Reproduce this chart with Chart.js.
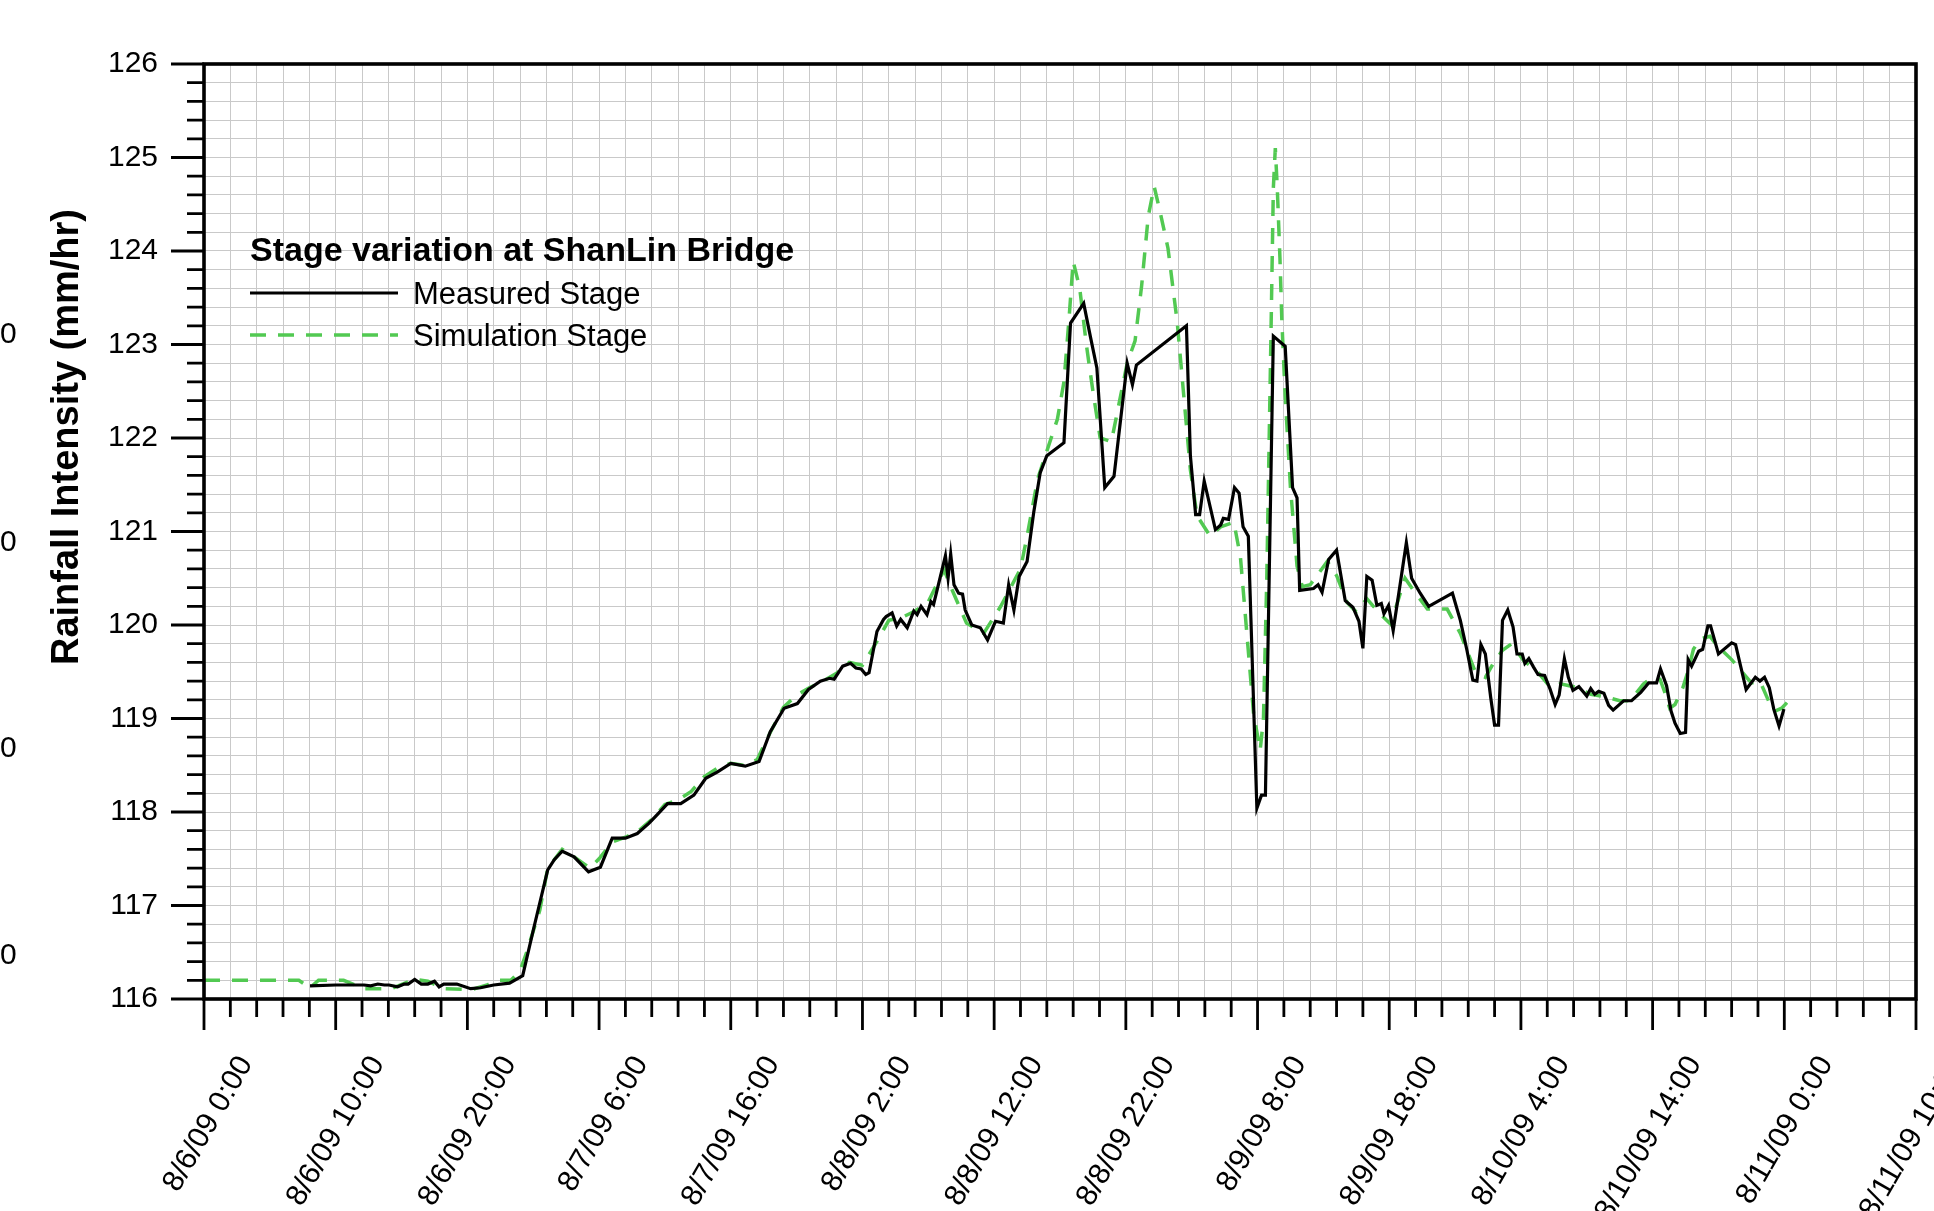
<!DOCTYPE html>
<html lang="en">
<head>
  <meta charset="UTF-8" />
  <title>Stage variation at ShanLin Bridge</title>
  <script src="https://cdn.jsdelivr.net/npm/chart.js"></script>
  <style>
    body { margin: 0; background: #fff; }
    canvas { display: block; }
  </style>
</head>
<body>
  <canvas id="stage" width="1934" height="1211"></canvas>

  <script>
    // hours since 8/6/09 0:00
    const tickLabels = ['8/6/09 0:00', '8/6/09 10:00', '8/6/09 20:00', '8/7/09 6:00', '8/7/09 16:00',
      '8/8/09 2:00', '8/8/09 12:00', '8/8/09 22:00', '8/9/09 8:00', '8/9/09 18:00',
      '8/10/09 4:00', '8/10/09 14:00', '8/11/09 0:00', '8/11/09 10:00'];

    const measuredHours = [8.05, 10, 12.15, 12.66, 13.2, 13.7, 14.05, 14.7, 15.2, 15.5, 16, 16.5, 17, 17.5, 17.85,
      18.2, 19.2, 20.25, 21, 22, 23.2, 24.2, 25.06, 26.1, 26.6, 27.2, 28.1, 29.2, 30.1, 31, 32, 32.9, 33.8, 34.4,
      35.2, 36.2, 37.2, 38.1, 39, 40, 41.1, 42.15, 43, 44.05, 45.06, 45.9, 46.8, 47.5, 47.85, 48.5, 49.1, 49.5,
      49.9, 50.25, 50.5, 51.1, 51.6, 51.8, 52.25, 52.6, 52.9, 53.4, 53.9, 54.15, 54.45, 54.9, 55.2, 55.4, 55.8,
      56.3, 56.5, 56.7, 56.95, 57.3, 57.6, 57.8, 58.3, 58.95, 59.5, 60.1, 60.7, 61.1, 61.5, 61.9, 62.5, 63, 63.5,
      64, 65.3, 65.8, 66.8, 67.3, 67.8, 68.4, 69.1, 70.1, 70.5, 70.8, 74.6, 74.9, 75.3, 75.6, 75.95, 76.8, 77.2,
      77.4, 77.8, 78.25, 78.6, 78.9, 79.3, 79.95, 80.3, 80.6, 81.2, 82.1, 82.66, 83, 83.2, 84.25, 84.6, 84.9,
      85.4, 86, 86.66, 87.24, 87.7, 88, 88.3, 88.7, 89.06, 89.4, 89.6, 89.95, 90.3, 90.8, 91.3, 91.7, 92.35, 93,
      94.8, 95.4, 95.9, 96.35, 96.66, 96.96, 97.3, 97.7, 98, 98.3, 98.6, 99, 99.4, 99.7, 100.1, 100.3, 100.6,
      100.96, 101.3, 101.8, 102.2, 102.6, 102.9, 103.3, 103.6, 103.95, 104.4, 104.76, 105, 105.3, 105.6, 105.9,
      106.3, 106.66, 107, 107.8, 108.4, 109.1, 109.7, 110.3, 110.6, 111.06, 111.4, 111.7, 112.1, 112.5, 112.7,
      112.96, 113.5, 113.8, 114.2, 114.4, 115, 116, 116.3, 117.1, 117.8, 118.15, 118.5, 118.86, 119.2, 119.6,
      119.97];
    const measuredStage = [116.14, 116.15, 116.15, 116.14, 116.16, 116.15, 116.15, 116.13, 116.16, 116.16, 116.21,
      116.16, 116.16, 116.19, 116.13, 116.16, 116.16, 116.11, 116.12, 116.15, 116.17, 116.25, 116.77, 117.38,
      117.49, 117.58, 117.52, 117.36, 117.41, 117.72, 117.72, 117.77, 117.88, 117.97, 118.09, 118.09, 118.18,
      118.36, 118.43, 118.52, 118.49, 118.54, 118.86, 119.11, 119.16, 119.31, 119.4, 119.43, 119.42, 119.56,
      119.59, 119.54, 119.53, 119.47, 119.49, 119.93, 120.06, 120.09, 120.13, 119.99, 120.06, 119.97, 120.15,
      120.11, 120.2, 120.11, 120.25, 120.22, 120.45, 120.74, 120.5, 120.76, 120.43, 120.34, 120.33, 120.16, 120,
      119.97, 119.84, 120.04, 120.02, 120.43, 120.16, 120.52, 120.68, 121.2, 121.63, 121.81, 121.95, 123.23,
      123.44, 123.09, 122.75, 121.47, 121.59, 122.8, 122.57, 122.78, 123.2, 121.81, 121.18, 121.18, 121.54,
      121.02, 121.07, 121.14, 121.13, 121.47, 121.41, 121.05, 120.95, 118.04, 118.18, 118.18, 123.09, 122.98,
      121.47, 121.36, 120.37, 120.39, 120.43, 120.35, 120.7, 120.8, 120.26, 120.19, 120.04, 119.75, 120.52,
      120.48, 120.21, 120.23, 120.12, 120.21, 119.94, 120.41, 120.88, 120.5, 120.34, 120.2, 120.34, 120.05,
      119.73, 119.41, 119.4, 119.79, 119.69, 119.23, 118.93, 118.93, 120.05, 120.16, 119.98, 119.69, 119.69,
      119.59, 119.64, 119.55, 119.47, 119.46, 119.32, 119.15, 119.25, 119.64, 119.44, 119.3, 119.34, 119.28,
      119.24, 119.32, 119.26, 119.29, 119.27, 119.14, 119.09, 119.19, 119.19, 119.28, 119.38, 119.38, 119.53,
      119.35, 119.08, 118.95, 118.84, 118.85, 119.63, 119.56, 119.72, 119.74, 119.99, 119.99, 119.69, 119.81,
      119.79, 119.31, 119.44, 119.4, 119.44, 119.33, 119.1, 118.92, 119.1];

    const simHours = [0, 7.2, 8.05, 8.7, 10.6, 12.2, 14.2, 16, 17, 18.2, 20.3, 21.5, 22.3, 23.3, 24, 24.5, 25.5,
      26.1, 27.2, 28, 29.3, 30, 31, 32, 33, 34, 35, 36, 37, 38, 39, 40, 41, 42, 43, 44, 45, 46, 47, 48, 49, 50,
      51, 52, 53, 54, 55, 56.2, 56.7, 57.9, 59.2, 60.5, 62, 62.5, 63.3, 64, 64.8, 65.3, 65.7, 66, 66.5, 67, 67.5,
      68.05, 68.9, 70.1, 70.7, 71.2, 71.7, 72.15, 72.6, 73.2, 73.9, 74.4, 74.9, 75.4, 76.4, 77.2, 78.2, 78.7,
      79.2, 79.7, 80.2, 80.45, 80.7, 81, 81.2, 81.35, 81.5, 81.7, 81.85, 82.1, 82.5, 83, 83.4, 84, 85.3, 86,
      86.8, 87.5, 88.3, 88.8, 89.44, 90.1, 90.6, 91.2, 91.85, 92.9, 94.4, 95.4, 95.9, 96.5, 97.3, 97.9, 98.6,
      99.3, 100.2, 101.2, 102.2, 103, 104, 105.3, 106.5, 107.5, 108.3, 109.3, 109.8, 110.56, 110.9, 111.3,
      111.7, 112.3, 112.7, 113.1, 113.6, 114.35, 114.9, 116, 116.6, 117.5, 118.15, 118.8, 119.3, 119.8, 120.2];
    const simStage = [116.2, 116.2, 116.12, 116.2, 116.2, 116.11, 116.11, 116.21, 116.19, 116.11, 116.1, 116.15,
      116.2, 116.2, 116.3, 116.5, 116.95, 117.4, 117.6, 117.53, 117.4, 117.5, 117.68, 117.73, 117.8, 117.92,
      118.08, 118.13, 118.22, 118.38, 118.47, 118.52, 118.5, 118.56, 118.85, 119.12, 119.25, 119.33, 119.4,
      119.48, 119.6, 119.57, 119.8, 120.05, 120.08, 120.15, 120.25, 120.59, 120.41, 120.02, 119.91, 120.2, 120.6,
      120.95, 121.56, 121.86, 122.2, 122.6, 123.3, 123.89, 123.6, 123, 122.5, 122, 121.96, 122.8, 123.04, 123.63,
      124.37, 124.69, 124.42, 124.03, 123.24, 122.45, 121.66, 121.17, 120.95, 121.05, 121.1, 120.73, 119.89,
      119.05, 118.66, 119, 120.48, 122.94, 124.67, 125.1, 124.67, 123.93, 123.24, 122.45, 121.47, 120.63, 120.41,
      120.43, 120.68, 120.53, 120.24, 120.14, 120.28, 120.2, 120.1, 120.01, 120.23, 120.5, 120.37, 120.17,
      120.17, 119.91, 119.73, 119.51, 119.44, 119.59, 119.73, 119.8, 119.62, 119.51, 119.34, 119.37, 119.34,
      119.26, 119.23, 119.19, 119.19, 119.37, 119.42, 119.42, 119.29, 119.11, 119.15, 119.33, 119.51, 119.74,
      119.85, 119.88, 119.78, 119.63, 119.53, 119.38, 119.4, 119.19, 119.08, 119.11, 119.17];

    const legendTitle = 'Stage variation at ShanLin Bridge';
    const axisTitle = 'Rainfall Intensity (mm/hr)';
    const FONT = "'Liberation Sans', Arial, sans-serif";

    const toPoints = (xs, ys) => xs.map((h, i) => ({ x: h, y: ys[i] }));
    const isWhole = (v) => Math.abs(v - Math.round(v)) < 1e-6;

    // frame, tick marks, legend and leftover labels from the neighbouring panel
    const decorations = {
      id: 'decorations',
      afterDraw(chart) {
        const { ctx, chartArea: a, scales: { x, y } } = chart;
        ctx.save();
        ctx.strokeStyle = '#000';
        ctx.lineWidth = 2.8;
        ctx.beginPath();
        x.ticks.forEach(t => {
          const px = x.getPixelForValue(t.value);
          const len = isWhole(t.value / 10) ? 31 : 18;
          ctx.moveTo(px, a.bottom);
          ctx.lineTo(px, a.bottom + len);
        });
        y.ticks.forEach(t => {
          const py = y.getPixelForValue(t.value);
          const len = isWhole(t.value) ? 33 : 17;
          ctx.moveTo(a.left, py);
          ctx.lineTo(a.left - len, py);
        });
        ctx.stroke();

        ctx.lineWidth = 3.6;
        ctx.strokeRect(a.left, a.top, a.right - a.left, a.bottom - a.top);

        // legend
        ctx.fillStyle = '#000';
        ctx.font = 'bold 34px ' + FONT;
        ctx.textBaseline = 'alphabetic';
        ctx.textAlign = 'left';
        ctx.fillText(legendTitle, 250, 261);
        ctx.font = '31px ' + FONT;
        ctx.textBaseline = 'middle';
        chart.data.datasets.forEach((ds, i) => {
          const ly = 293 + i * 42;
          ctx.save();
          ctx.strokeStyle = ds.borderColor;
          ctx.lineWidth = ds.borderWidth;
          ctx.setLineDash(ds.borderDash || []);
          ctx.beginPath();
          ctx.moveTo(250, ly);
          ctx.lineTo(398, ly);
          ctx.stroke();
          ctx.restore();
          ctx.fillText(ds.label, 413, ly + 2);
        });

        // y axis title
        ctx.save();
        ctx.translate(68, 437);
        ctx.rotate(-Math.PI / 2);
        ctx.textAlign = 'center';
        ctx.font = 'bold 38px ' + FONT;
        ctx.fillText(axisTitle, 0, 0);
        ctx.restore();

        // cut-off tick labels of the panel on the left
        ctx.font = '30px ' + FONT;
        ctx.textAlign = 'left';
        [335, 543, 749, 956].forEach(py => ctx.fillText('0', 0, py));
        ctx.restore();
      }
    };

    new Chart(document.getElementById('stage'), {
      type: 'line',
      data: {
        datasets: [
          {
            label: 'Measured Stage',
            data: toPoints(measuredHours, measuredStage),
            borderColor: '#000000',
            borderWidth: 3.2,
            pointRadius: 0,
            tension: 0
          },
          {
            label: 'Simulation Stage',
            data: toPoints(simHours, simStage),
            borderColor: '#52c952',
            borderWidth: 3.5,
            borderDash: [16, 12],
            pointRadius: 0,
            tension: 0
          }
        ]
      },
      options: {
        responsive: false,
        animation: false,
        layout: { padding: { top: 64, right: 18, left: 0, bottom: 0 } },
        plugins: {
          legend: { display: false },
          tooltip: { enabled: false }
        },
        scales: {
          x: {
            type: 'linear',
            min: 0,
            max: 130,
            border: { display: false },
            grid: { color: '#c9c9c9', lineWidth: 1, drawTicks: false },
            ticks: {
              stepSize: 2,
              autoSkip: false,
              maxRotation: 60,
              minRotation: 60,
              padding: 51,
              labelOffset: 42,
              color: '#000',
              font: { family: FONT, size: 30 },
              callback: (v) => isWhole(v / 10) ? tickLabels[Math.round(v / 10)] : ''
            },
            afterFit: (scale) => {
              scale.height = 212;
              scale.paddingLeft = 0;
              scale.paddingRight = 0;
            }
          },
          y: {
            min: 116,
            max: 126,
            border: { display: false },
            grid: { color: '#c9c9c9', lineWidth: 1, drawTicks: false },
            ticks: {
              stepSize: 0.2,
              autoSkip: false,
              padding: 46,
              color: '#000',
              font: { family: FONT, size: 30 },
              callback: (v) => isWhole(v) ? String(Math.round(v)) : ''
            },
            afterFit: (scale) => {
              scale.width = 204;
              scale.paddingTop = 0;
              scale.paddingBottom = 0;
            }
          }
        }
      },
      plugins: [decorations]
    });
  </script>
</body>
</html>
